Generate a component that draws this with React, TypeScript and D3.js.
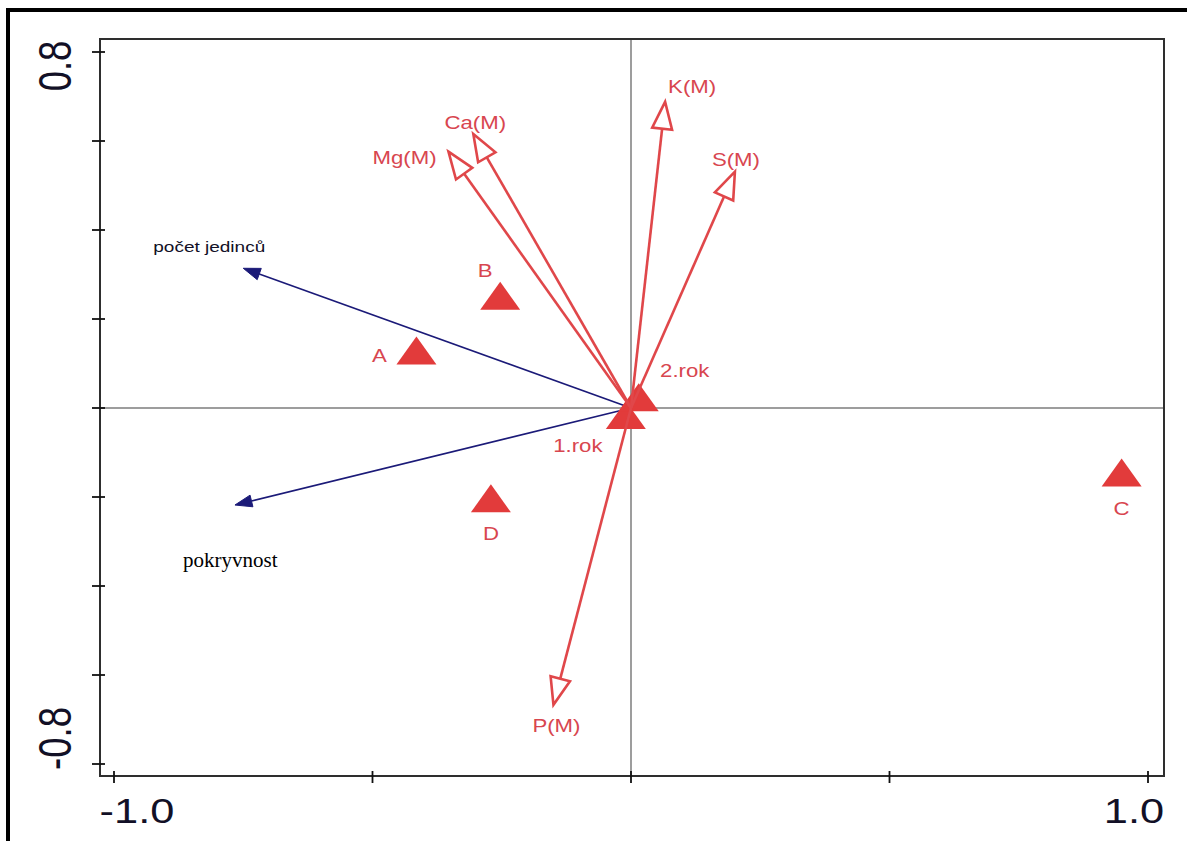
import React from "react";
import * as d3 from "d3";

// Species / response variables (red, open arrowheads)
const responseNames = ["K(M)", "S(M)", "Ca(M)", "Mg(M)", "P(M)"];
const responseX = [0.066, 0.201, -0.305, -0.353, -0.15];
const responseY = [0.688, 0.531, 0.616, 0.576, -0.667];

// Supplementary variables (navy, filled arrowheads)
const suppNames = ["počet jedinců", "pokryvnost"];
const suppX = [-0.75, -0.766];
const suppY = [0.314, -0.218];

// Sample / factor centroids (red triangles)
const sampleNames = ["A", "B", "C", "D", "1.rok", "2.rok"];
const sampleX = [-0.415, -0.253, 0.949, -0.271, -0.01, 0.015];
const sampleY = [0.129, 0.252, -0.145, -0.203, -0.016, 0.024];

// Axis ticks and labelled extremes
const xTicks = [-1, -0.5, 0, 0.5, 1];
const yTicks = [-0.8, -0.6, -0.4, -0.2, 0, 0.2, 0.4, 0.6, 0.8];
const xTickLabels = ["-1.0", "1.0"];
const xLabelValues = [-1, 1];
const yTickLabels = ["0.8", "-0.8"];
const yLabelValues = [0.8, -0.8];

// Layout
const W = 1187;
const H = 841;
const box = { left: 100, top: 39, right: 1164, bottom: 776 };

const RED_LINE = "#e0474a";
const RED_FILL = "#e23b3b";
const RED_TEXT = "#d8464f";
const NAVY = "#1b1a78";
const INK = "#121026";

// Label placement offsets relative to the mark, in px (centre x, baseline y)
const responseLabelOffset: Record<string, [number, number]> = {
  "K(M)": [27, -9],
  "S(M)": [1, -6],
  "Ca(M)": [2, -5],
  "Mg(M)": [-44, 12],
  "P(M)": [3, 27],
};
const sampleLabelOffset: Record<string, [number, number]> = {
  A: [-37, 11],
  B: [-15, -19],
  C: [0, 42],
  D: [0, 42],
  "1.rok": [-48, 37],
  "2.rok": [46, -20],
};

function headPoints(
  ox: number,
  oy: number,
  tx: number,
  ty: number,
  len: number,
  half: number
) {
  const dx = tx - ox;
  const dy = ty - oy;
  const d = Math.hypot(dx, dy);
  const ux = dx / d;
  const uy = dy / d;
  const bx = tx - ux * len;
  const by = ty - uy * len;
  const px = -uy;
  const py = ux;
  return {
    base: [bx, by],
    poly: `${tx},${ty} ${bx + px * half},${by + py * half} ${bx - px * half},${by - py * half}`,
  };
}

function RedLabel({ x, y, text }: { x: number; y: number; text: string }) {
  return (
    <text
      transform={`translate(${x},${y}) scale(1.2,1)`}
      textAnchor="middle"
      fontFamily="Liberation Sans, Arial, sans-serif"
      fontSize={18.5}
      fill={RED_TEXT}
    >
      {text}
    </text>
  );
}

export default function App() {
  const x = d3.scaleLinear().domain([-1, 1]).range([114, 1148]);
  const y = d3.scaleLinear().domain([-0.8, 0.8]).range([764, 52]);
  const ox = x(0);
  const oy = y(0);

  const tri = (cx: number, cy: number) =>
    `M${cx},${cy - 14}L${cx + 20},${cy + 14}L${cx - 20},${cy + 14}Z`;

  return (
    <svg
      width={W}
      height={H}
      style={{ position: "absolute", left: 0, top: 0, background: "#fff" }}
    >
      {/* outer frame */}
      <line x1={6} x2={W} y1={10} y2={10} stroke="#000" strokeWidth={4} />
      <line x1={8} x2={8} y1={8} y2={H} stroke="#000" strokeWidth={4} />

      {/* zero axes */}
      <line x1={ox} x2={ox} y1={box.top} y2={box.bottom} stroke="#7c7c7c" strokeWidth={1.5} />
      <line x1={box.left} x2={box.right} y1={oy} y2={oy} stroke="#7c7c7c" strokeWidth={1.5} />

      {/* plot box */}
      <rect
        x={box.left}
        y={box.top}
        width={box.right - box.left}
        height={box.bottom - box.top}
        fill="none"
        stroke="#2e2e2e"
        strokeWidth={2}
      />

      {/* ticks */}
      {yTicks.map((t) => (
        <line key={"yt" + t} x1={box.left - 8} x2={box.left + 5} y1={y(t)} y2={y(t)} stroke="#111" strokeWidth={1.8} />
      ))}
      {xTicks.map((t) => (
        <line key={"xt" + t} x1={x(t)} x2={x(t)} y1={box.bottom - 5} y2={box.bottom + 7} stroke="#111" strokeWidth={1.8} />
      ))}

      {/* tick labels */}
      {xTickLabels.map((lab, i) => {
        const v = xLabelValues[i];
        const cx = x(v) + (v < 0 ? 23 : -14);
        return (
          <text
            key={lab}
            transform={`translate(${cx},823) scale(1.24,1)`}
            textAnchor="middle"
            fontFamily="Liberation Sans, Arial, sans-serif"
            fontSize={35}
            fill={INK}
          >
            {lab}
          </text>
        );
      })}
      {yTickLabels.map((lab, i) => {
        const v = yLabelValues[i];
        const cy = y(v) + (v > 0 ? 14 : -25.5);
        return (
          <text
            key={lab}
            transform={`translate(71,${cy}) rotate(-90) scale(1,1.26)`}
            textAnchor="middle"
            fontFamily="Liberation Sans, Arial, sans-serif"
            fontSize={36.5}
            fill={INK}
          >
            {lab}
          </text>
        );
      })}

      {/* supplementary arrows */}
      {suppNames.map((name, i) => {
        const tx = x(suppX[i]);
        const ty = y(suppY[i]);
        const h = headPoints(ox, oy, tx, ty, 17, 6);
        return (
          <g key={name}>
            <line x1={ox} y1={oy} x2={h.base[0]} y2={h.base[1]} stroke={NAVY} strokeWidth={1.6} />
            <polygon points={h.poly} fill={NAVY} stroke={NAVY} strokeWidth={1} />
          </g>
        );
      })}
      <text
        x={x(suppX[0]) - 90}
        y={y(suppY[0]) - 16}
        fontFamily="Liberation Sans, Arial, sans-serif"
        fontSize={14}
        textLength={112}
        lengthAdjust="spacingAndGlyphs"
        fill={INK}
      >
        {suppNames[0]}
      </text>
      <text
        x={x(suppX[1]) - 52}
        y={y(suppY[1]) + 62}
        fontFamily="Liberation Serif, Times New Roman, serif"
        fontSize={21}
        fill="#000"
      >
        {suppNames[1]}
      </text>

      {/* sample triangles */}
      {sampleNames.map((name, i) => {
        const cx = x(sampleX[i]);
        const cy = y(sampleY[i]);
        const [dx, dy] = sampleLabelOffset[name];
        return (
          <g key={name}>
            <path d={tri(cx, cy)} fill={RED_FILL} />
            <RedLabel x={cx + dx} y={cy + dy} text={name} />
          </g>
        );
      })}

      {/* response arrows */}
      {responseNames.map((name, i) => {
        const tx = x(responseX[i]);
        const ty = y(responseY[i]);
        const h = headPoints(ox, oy, tx, ty, 27, 10);
        const [dx, dy] = responseLabelOffset[name];
        return (
          <g key={name}>
            <line x1={ox} y1={oy} x2={h.base[0]} y2={h.base[1]} stroke={RED_LINE} strokeWidth={2.6} />
            <polygon points={h.poly} fill="#fff" stroke={RED_LINE} strokeWidth={2.6} strokeLinejoin="miter" />
            <RedLabel x={tx + dx} y={ty + dy} text={name} />
          </g>
        );
      })}
    </svg>
  );
}
